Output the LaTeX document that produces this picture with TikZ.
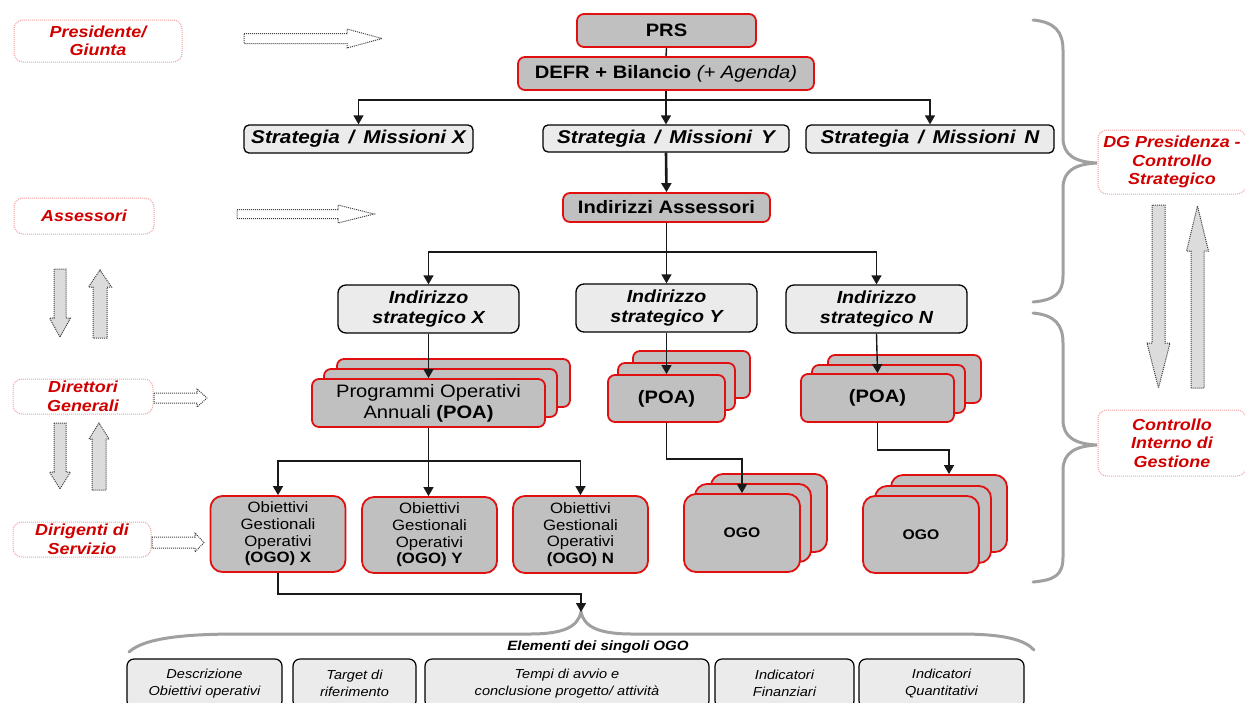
\documentclass[tikz,border=0pt]{standalone}
\usepackage{fontspec}
\setmainfont{Liberation Sans}[FakeStretch=1.12]
\usetikzlibrary{arrows.meta,calc}
\definecolor{redc}{HTML}{D00000}
\definecolor{redb}{HTML}{E01010}
\definecolor{grayf}{HTML}{C0C0C0}
\definecolor{lightf}{HTML}{EBEBEB}
\definecolor{pinkb}{HTML}{F2A0A0}
\definecolor{braceg}{HTML}{A0A0A0}
\definecolor{blkf}{HTML}{DCDCDC}
\newcommand\fsz[2]{\fontsize{#1}{#2}\selectfont}
\newcommand\hblk[7]{%
  \draw[#1] (#2,#4-#5) -- (#3-#7,#4-#5) -- (#3-#7,#4-#6) -- (#3,#4) -- (#3-#7,#4+#6) -- (#3-#7,#4+#5) -- (#2,#4+#5) -- cycle;}
\newcommand\vblk[7]{%
  \draw[#1] (#2-#5,#3) -- (#2-#5,#4-#7) -- (#2-#6,#4-#7) -- (#2,#4) -- (#2+#6,#4-#7) -- (#2+#5,#4-#7) -- (#2+#5,#3) -- cycle;}
\begin{document}
\begin{tikzpicture}[x=1pt,y=-1pt,
  wh/.style 2 args={minimum width=#1pt,minimum height=#2pt},
  redbox/.style={draw=redb,line width=1.8pt,fill=grayf,rounded corners=7pt,inner sep=0pt,align=center},
  ogobox/.style={redbox,rounded corners=12pt},
  strbox/.style={draw=black,line width=1.3pt,fill=lightf,rounded corners=5pt,inner sep=0pt,align=center},
  indbox/.style={strbox,rounded corners=8pt},
  botbox/.style={draw=black,line width=1.2pt,fill=lightf,rounded corners=7pt,inner sep=0pt,align=center,font=\fsz{13}{17}\itshape},
  lblbox/.style={draw=pinkb,densely dotted,line width=1pt,rounded corners=9pt,inner sep=0pt,align=center,text=redc,font=\fsz{16}{18.5}\bfseries\itshape},
  conn/.style={line width=1.4pt,draw=black!90},
  arr/.style={conn,-{Triangle[length=9pt,width=10pt]}},
  blk/.style={draw=black!75,densely dotted,line width=1pt,fill=white},
  blkg/.style={blk,fill=blkf},
  brc/.style={draw=braceg,line width=3pt,line cap=round}]
\useasboundingbox (0,0) rectangle (1245,702);
\clip (0,0) rectangle (1245,702);

% ---- left labels
\node[lblbox,wh={168}{42}] (pres) at (98,41) {Presidente/\\Giunta};
\node[lblbox,wh={140}{36}] (ass) at (84,216) {Assessori};
\node[lblbox,wh={140}{35}] (dir) at (83,396.5) {Direttori\\Generali};
\node[lblbox,wh={138}{35}] (dirig) at (82,539.5) {Dirigenti di\\Servizio};

% ---- right labels
\node[lblbox,wh={148}{64}] (dg) at (1172,162) {DG Presidenza -\\Controllo\\Strategico};
\node[lblbox,wh={148}{66}] (cig) at (1172,443) {Controllo\\Interno di\\Gestione};

% ---- block arrows
\hblk{blk}{244}{382}{38.5}{5}{9.5}{35}
\hblk{blk}{237}{374}{214}{4.5}{9}{36}
\hblk{blk}{154}{207}{398}{5}{9}{10}
\hblk{blk}{152}{204}{542.5}{5.5}{9.5}{9}
\vblk{blkg}{60}{269}{337}{6}{10.5}{19}
\vblk{blkg}{100}{338}{270}{7}{11.5}{-17}
\vblk{blkg}{60}{423}{489}{6}{10.5}{17}
\vblk{blkg}{99}{490}{423}{7}{10}{-16}
\vblk{blkg}{1158.5}{205}{388}{6.5}{11.5}{45}
\vblk{blkg}{1197.5}{388}{206}{6.5}{11}{-45}

% ---- braces
\draw[brc] (1033,20) .. controls (1055,22) and (1063,32) .. (1063,50) -- (1063,138)
  .. controls (1063,155) and (1075,162) .. (1097,163)
  .. controls (1075,164) and (1063,171) .. (1063,188) -- (1063,276)
  .. controls (1063,293) and (1055,300) .. (1033,302);
\draw[brc] (1033,313) .. controls (1055,315) and (1063,325) .. (1063,343) -- (1063,420)
  .. controls (1063,437) and (1075,444) .. (1097,445)
  .. controls (1075,446) and (1063,453) .. (1063,470) -- (1063,557)
  .. controls (1063,575) and (1055,580) .. (1033,582);

% ---- top chain
\node[redbox,wh={179}{33},font=\fsz{18}{21}\bfseries] (prs) at (666.5,30.5) {PRS};
\node[redbox,wh={296}{33},font=\fsz{18}{21}] (defr) at (666,73.5) {\textbf{DEFR + Bilancio} \textit{(+ Agenda)}};
\node[strbox,wh={229}{28},font=\fsz{18.5}{21}\bfseries\itshape] (sx) at (358.5,139) {Strategia \,/\, Missioni X};
\node[strbox,wh={246}{27},font=\fsz{18.5}{21}\bfseries\itshape] (sy) at (666,138.5) {Strategia \,/\, Missioni \,Y};
\node[strbox,wh={248}{28},font=\fsz{18.5}{21}\bfseries\itshape] (sn) at (930,139) {Strategia \,/\, Missioni \,N};
\node[redbox,wh={207}{29},font=\fsz{18}{21}\bfseries] (ia) at (666.5,207.5) {Indirizzi Assessori};

\node[indbox,wh={181}{48},font=\fsz{17.5}{20}\bfseries\itshape] (ix) at (428.5,309) {Indirizzo\\strategico X};
\node[indbox,wh={181}{48},font=\fsz{17.5}{20}\bfseries\itshape] (iy) at (666.5,308) {Indirizzo\\strategico Y};
\node[indbox,wh={181}{48},font=\fsz{17.5}{20}\bfseries\itshape] (in) at (876.5,309) {Indirizzo\\strategico N};

% ---- POA stacks
\node[redbox,wh={233}{48}] (poaxb) at (453.5,383) {};
\node[redbox,wh={233}{48}] (poaxm) at (440.5,393) {};
\node[redbox,wh={233}{48},font=\fsz{18}{21}] (poax) at (428.5,403) {Programmi Operativi\\Annuali \textbf{(POA)}};

\node[redbox,wh={117}{47}] (poayb) at (691.5,374.5) {};
\node[redbox,wh={117}{47}] (poaym) at (676.5,386.5) {};
\node[redbox,wh={117}{47},font=\fsz{18}{21}\bfseries] (poay) at (666.5,398.5) {(POA)};

\node[redbox,wh={153}{48}] (poanb) at (904.5,379) {};
\node[redbox,wh={153}{48}] (poanm) at (888.5,389) {};
\node[redbox,wh={153}{48},font=\fsz{18}{21}\bfseries] (poan) at (877.5,398) {(POA)};

% ---- OGO boxes
\node[ogobox,wh={135}{76},font=\fsz{15}{16.7}] (ogox) at (278,534) {Obiettivi\\Gestionali\\Operativi\\\textbf{(OGO) X}};
\node[ogobox,wh={135}{76},font=\fsz{15}{16.7}] (ogoy) at (429.5,535) {Obiettivi\\Gestionali\\Operativi\\\textbf{(OGO) Y}};
\node[ogobox,wh={135}{77},font=\fsz{15}{16.7}] (ogon) at (580.5,534.5) {Obiettivi\\Gestionali\\Operativi\\\textbf{(OGO) N}};

\node[ogobox,wh={116}{78}] (ogoyb) at (769,513) {};
\node[ogobox,wh={116}{78}] (ogoym) at (753,523) {};
\node[ogobox,wh={116}{78},font=\fsz{14}{16}\bfseries] (ogoyf) at (742,533) {OGO};

\node[ogobox,wh={116}{77}] (ogonb) at (949,513.5) {};
\node[ogobox,wh={116}{77}] (ogonm) at (933,524.5) {};
\node[ogobox,wh={116}{77},font=\fsz{14}{16}\bfseries] (ogonf) at (921,534.5) {OGO};

% ---- connectors
\draw[conn] (prs.south) -- (defr.north);
\coordinate (j1) at (666,100);
\draw[conn,line width=2pt] (defr.south) -- (j1);
\draw[arr] (j1) -| (sx.north);
\draw[arr] (j1) -| (sn.north);
\draw[arr] (j1) -- (sy.north);
\draw[arr,line width=2.6pt] (sy.south) -- (ia.north);
\coordinate (j2) at (666.5,252);
\draw[conn] (ia.south) -- (j2);
\draw[arr] (j2) -| (ix.north);
\draw[arr] (j2) -| (in.north);
\draw[arr] (j2) -- (iy.north);
\draw[arr] (ix.south) -- (poax.north);
\draw[arr] (iy.south) -- (poay.north);
\draw[arr] (in.south) -- (poan.north);
\coordinate (j3) at (428.5,461);
\draw[conn] (poax.south) -- (j3);
\draw[arr] (j3) -| (ogox.north);
\draw[arr] (j3) -| (ogon.north);
\draw[arr] (j3) -- (j3 |- ogoy.north);
\draw[arr] (poay.south) -- ++(0,36) -| (ogoyf.north);
\draw[arr] (poan.south) -- ++(0,27) -| (ogonb.north);

% ---- bottom brace and elements
\coordinate (btip) at (581,612);
\draw[brc] (129,652) .. controls (145,637) and (190,634) .. (240,634) -- (530,634)
  .. controls (565,634) and (578,626) .. (btip)
  .. controls (584,626) and (597,634) .. (632,634) -- (960,634)
  .. controls (1005,634) and (1025,640) .. (1034,650);
\draw[arr] (ogox.south) -- ++(0,21) -| (btip);
\node[font=\fsz{13.5}{16}\bfseries\itshape,inner sep=0pt] (elem) at (598,647) {Elementi dei singoli OGO};

\node[botbox,wh={155}{49}] (b1) at (204.5,683.5) {Descrizione\\Obiettivi operativi};
\node[botbox,wh={123}{49}] (b2) at (354.5,683.5) {Target di\\riferimento};
\node[botbox,wh={284}{49}] (b3) at (567,683.5) {Tempi di avvio e\\conclusione progetto/ attività};
\node[botbox,wh={139}{49}] (b4) at (784.5,683.5) {Indicatori\\Finanziari};
\node[botbox,wh={165}{49}] (b5) at (941.5,683.5) {Indicatori\\Quantitativi};
\end{tikzpicture}
\end{document}
